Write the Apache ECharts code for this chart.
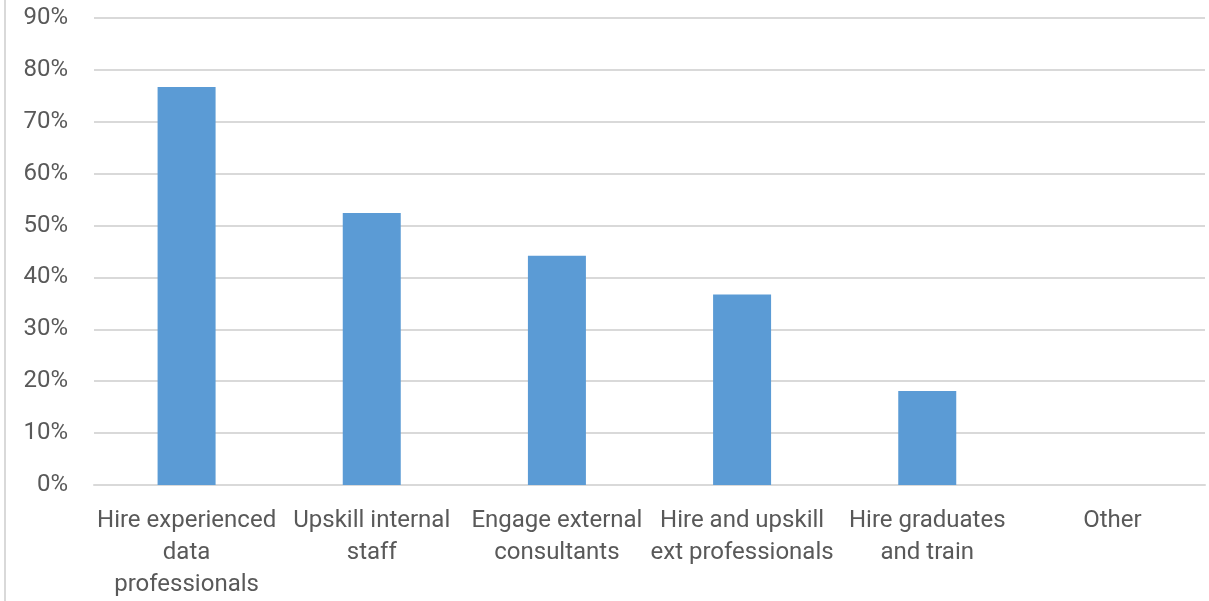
<!DOCTYPE html>
<html><head><meta charset="utf-8">
<script src="https://cdn.jsdelivr.net/npm/echarts@6/dist/echarts.min.js"></script>
<style>html,body{margin:0;padding:0;background:#fff}#c{width:1209px;height:601px}</style>
</head><body><div id="c"></div>
<script>
const categories = ["Hire experienced\ndata\nprofessionals","Upskill internal\nstaff","Engage external\nconsultants","Hire and upskill\next professionals","Hire graduates\nand train","Other"];
const values = [0.767, 0.524, 0.442, 0.367, 0.181, 0];
const yTicks = {min:0, max:0.9, interval:0.1};

const chart = echarts.init(document.getElementById('c'));
chart.setOption({
  animation:false,
  grid:{left:94,right:4,top:18,bottom:113,containLabel:false},
  graphic:[{type:'line',shape:{x1:5,y1:0,x2:5,y2:601},style:{stroke:'#d9d9d9',lineWidth:2}}],
  xAxis:{type:'category',data:categories,
    axisLine:{show:true,lineStyle:{color:'#d9d9d9',width:2}},
    axisTick:{show:false},
    axisLabel:{interval:0,color:'#595959',fontFamily:'Roboto',fontSize:24,lineHeight:32,margin:20}},
  yAxis:{type:'value',min:yTicks.min,max:yTicks.max,interval:yTicks.interval,
    axisLine:{show:false},axisTick:{show:false},
    splitLine:{lineStyle:{color:'#d9d9d9',width:2}},
    axisLabel:{color:'#595959',fontFamily:'Roboto',fontSize:24,margin:26,
      formatter:v=>Math.round(v*100)+'%'}},
  series:[{type:'bar',data:values,barWidth:58,itemStyle:{color:'#5b9bd5'}}]
});
</script></body></html>
